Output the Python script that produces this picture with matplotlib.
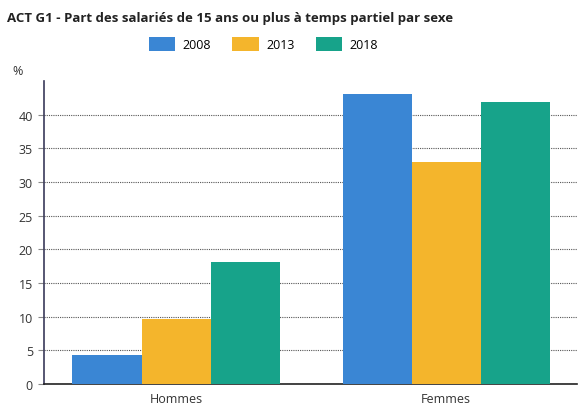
import matplotlib
matplotlib.use("Agg")
import matplotlib.pyplot as plt
import numpy as np

plt.rcParams['font.family'] = ['Open Sans', 'DejaVu Sans']

categories = ["Hommes", "Femmes"]
years = ["2008", "2013", "2018"]
values = {
    "2008": [4.3, 43.1],
    "2013": [9.7, 33.0],
    "2018": [18.1, 41.9],
}
colors = {"2008": "#3a86d4", "2013": "#f4b52c", "2018": "#17a38a"}
yticks = [0, 5, 10, 15, 20, 25, 30, 35, 40]

fig = plt.figure(figsize=(5.79, 4.10), dpi=100)
ax = fig.add_axes([0.076, 0.061, 0.921, 0.739])

x = np.arange(len(categories))
w = 0.256
for i, yr in enumerate(years):
    ax.bar(x + (i - 1) * w, values[yr], width=w, color=colors[yr], label=yr, zorder=3)

ax.set_xlim(-0.489, 1.485)
ax.set_ylim(0, 45)
ax.set_xticks(x)
ax.set_xticklabels(categories, fontsize=9, color="#333333")
ax.set_yticks(yticks)
ax.set_yticklabels([str(t) for t in yticks], fontsize=9, color="#333333")
ax.tick_params(axis='x', length=0, pad=6)
ax.tick_params(axis='y', length=4, color="#888888", pad=4)
ax.yaxis.grid(True, linestyle=(0, (1, 1)), color="#555555", linewidth=0.8, zorder=0)
for s in ["top", "right"]:
    ax.spines[s].set_visible(False)
ax.spines["left"].set_color("#3a3a5a")
ax.spines["left"].set_linewidth(1.2)
ax.spines["bottom"].set_color("#222222")
ax.spines["bottom"].set_linewidth(1.2)

fig.text(0.012, 0.955, "ACT G1 - Part des salariés de 15 ans ou plus à temps partiel par sexe",
         fontsize=9.5, fontweight="bold", color="#222222", va="center", ha="left")
fig.text(0.022, 0.825, "%", fontsize=9, color="#333333", va="center", ha="left")

fig.legend(loc="center", bbox_to_anchor=(0.455, 0.89), ncol=3, frameon=False,
           fontsize=9, handlelength=2.1, handleheight=1.3, columnspacing=1.7,
           handletextpad=0.6)

fig.savefig("out.png", dpi=100)
